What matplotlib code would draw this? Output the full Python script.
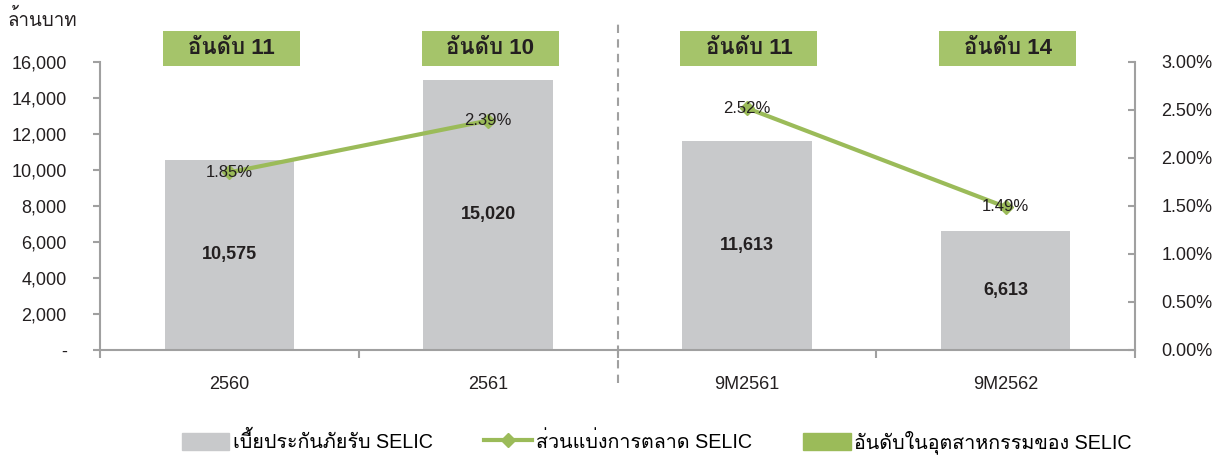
import matplotlib
matplotlib.use("Agg")
import matplotlib.pyplot as plt
from matplotlib import font_manager
from matplotlib.ft2font import FT2Font
from matplotlib.lines import Line2D
from matplotlib.patches import Patch, Rectangle
import matplotlib.transforms as mtrans
import matplotlib.ticker as mticker

# data
categories = ["2560", "2561", "9M2561", "9M2562"]
premium = [10575, 15020, 11613, 6613]
share = [1.85, 2.39, 2.52, 1.49]
ranks = ["อันดับ 11", "อันดับ 10", "อันดับ 11", "อันดับ 14"]

# find a font with thai glyphs
thai_font = None
for f in font_manager.fontManager.ttflist:
    try:
        if 0x0E2D in FT2Font(f.fname).get_charmap():
            thai_font = f.name
            break
    except Exception:
        pass
fams = ["Liberation Sans"]
if thai_font:
    fams.append(thai_font)
fams.append("DejaVu Sans")
plt.rcParams['font.family'] = fams

bar_col = "#C8C9CB"
green = "#9BBB59"
box_col = "#A5C46A"
axis_col = "#A0A0A0"
txt_col = "#231F20"

W, H = 1224, 459
fig = plt.figure(figsize=(W / 100, H / 100), dpi=100)
ax = fig.add_axes([100/W, 1-350/H, 1035/W, 288/H])
x = list(range(len(categories)))
ax.bar(x, premium, width=0.5, color=bar_col, zorder=2)
ax.set_xlim(-0.5, 3.5)
ax.set_ylim(0, 16000)
ax.yaxis.set_major_locator(mticker.MultipleLocator(2000))
ax.yaxis.set_major_formatter(mticker.FuncFormatter(lambda v, p: "-" if v == 0 else "{:,.0f}".format(v)))
ax.set_xticks(x)
ax.set_xticklabels(categories)
ax.set_xticks([-0.5, 0.5, 1.5, 2.5, 3.5], minor=True)
ax.tick_params(axis='x', which='major', length=0, pad=19, labelsize=13, labelcolor=txt_col)
ax.tick_params(axis='x', which='minor', length=6, color=axis_col, width=1.5, direction='out')
ax.tick_params(axis='y', length=5, color=axis_col, width=1.5, labelsize=13, labelcolor=txt_col, pad=19)
for s in ['top', 'right']:
    ax.spines[s].set_visible(False)
for s in ['left', 'bottom']:
    ax.spines[s].set_color(axis_col)
    ax.spines[s].set_linewidth(1.5)

for i, v in enumerate(premium):
    ax.text(i, v / 2, "{:,}".format(v), ha='center', va='center', fontsize=13,
            fontweight='bold', color=txt_col, zorder=5)

ax2 = ax.twinx()
ax2.set_ylim(0, 3.0)
ax2.yaxis.set_major_locator(mticker.MultipleLocator(0.5))
ax2.yaxis.set_major_formatter(mticker.FuncFormatter(lambda v, p: "{:.2f}%".format(v)))
ax2.tick_params(axis='y', direction='in', length=5, color=axis_col, width=1.5,
                labelsize=13, labelcolor=txt_col, pad=19)
for s in ['top', 'left', 'bottom']:
    ax2.spines[s].set_visible(False)
ax2.spines['right'].set_color(axis_col)
ax2.spines['right'].set_linewidth(1.5)

ax2.plot(x[:2], share[:2], color=green, lw=3, marker='D', ms=7, zorder=3)
ax2.plot(x[2:], share[2:], color=green, lw=3, marker='D', ms=7, zorder=3)
for i, v in enumerate(share):
    ax2.text(i, v, "{:.2f}%".format(v), ha='center', va='center', fontsize=12,
             color=txt_col, zorder=6)

# dashed divider
ax2.plot([1.5, 1.5], [-0.34, 3.42], ls=(0, (4, 3)), color=axis_col, lw=1.5,
         clip_on=False, zorder=1)

# rank boxes
tr = mtrans.blended_transform_factory(ax.transData, fig.transFigure)
box_w = 137 / 1035 * 4
for i, r in enumerate(ranks):
    fig.add_artist(Rectangle((i + 0.008 - box_w / 2, 1 - 66/H), box_w, 35/H,
                             transform=tr, fc=box_col, ec='none'))
    fig.text(i + 0.008, 1 - 48.5/H, r, transform=tr, ha='center', va='center',
             fontsize=16, fontweight='bold', color=txt_col)

fig.text(8/W, 1-19/H, "ล้านบาท", ha='left', va='center', fontsize=13.5, color=txt_col)

handles = [Patch(color=bar_col),
           Line2D([], [], color=green, lw=3, marker='D', ms=7),
           Patch(color=green)]
labels = ["เบี้ยประกันภัยรับ SELIC", "ส่วนแบ่งการตลาด SELIC", "อันดับในอุตสาหกรรมของ SELIC"]
fig.legend(handles, labels, loc='center', bbox_to_anchor=(657/W, 1-442/H), ncol=3,
           frameon=False, fontsize=14.2, handlelength=2.4, handleheight=1.0,
           columnspacing=2.6, handletextpad=0.2)

fig.savefig("out.png", dpi=100)
